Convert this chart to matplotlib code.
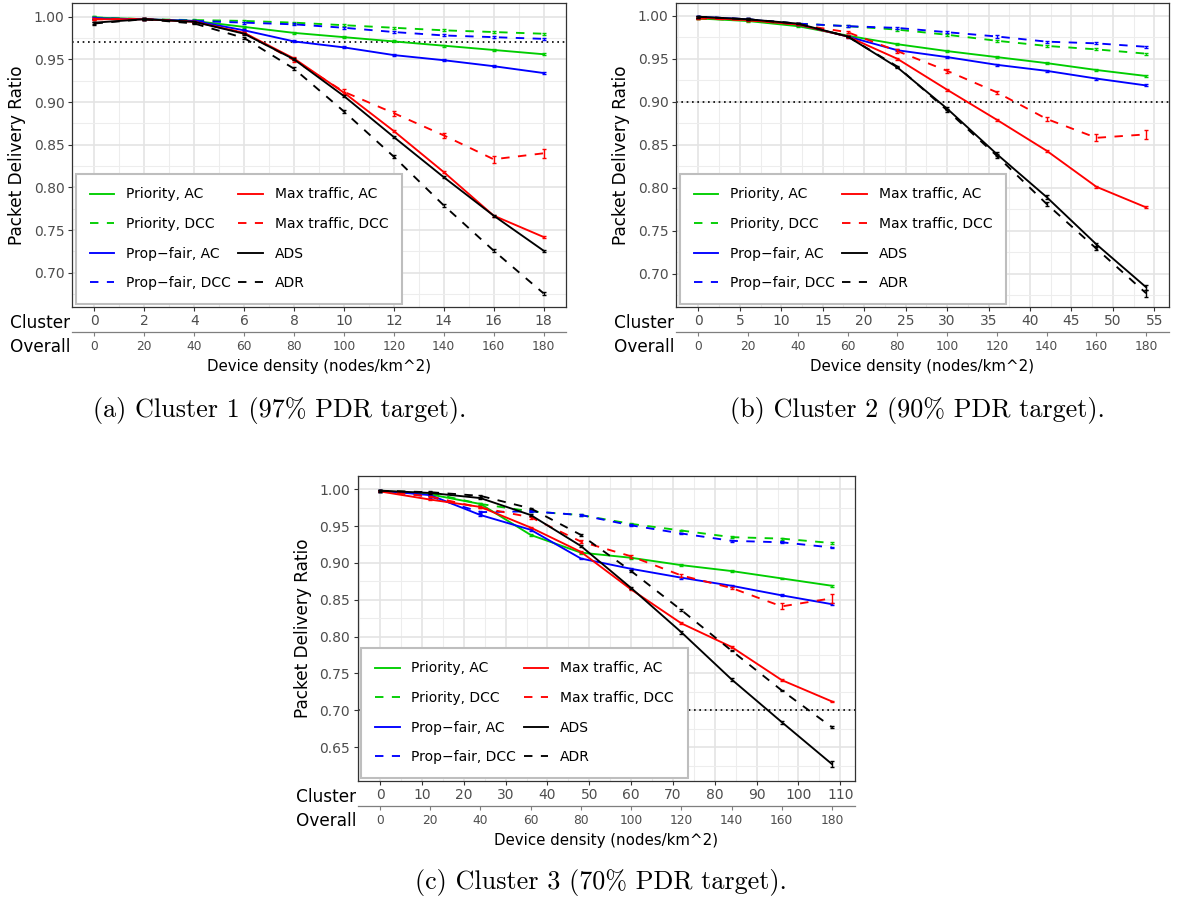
import matplotlib
matplotlib.use("Agg")
from matplotlib import pyplot as plt
from matplotlib.ticker import MultipleLocator, FormatStrFormatter

plt.rcParams['font.family'] = ['DejaVu Sans']

# series, same order as the legend (column-wise)
labels = ["Priority, AC", "Priority, DCC", "Prop\u2212fair, AC", "Prop\u2212fair, DCC",
          "Max traffic, AC", "Max traffic, DCC", "ADS", "ADR"]
line_colors = ["#00CD00", "#00CD00", "#0000FF", "#0000FF",
               "#FF0000", "#FF0000", "#000000", "#000000"]
is_dcc = [False, True, False, True, False, True, False, True]

overall_density = [0, 20, 40, 60, 80, 100, 120, 140, 160, 180]
# cluster density = overall density * share of the cluster
cluster_share = [0.1, 0.3, 0.6]
pdr_target = [0.97, 0.90, 0.70]

captions = ["(a) Cluster 1 (97% PDR target).",
            "(b) Cluster 2 (90% PDR target).",
            "(c) Cluster 3 (70% PDR target)."]

# cluster 1
pdr_c1 = {
    "Priority, AC":          [0.999, 0.997, 0.995, 0.988, 0.981, 0.976, 0.971, 0.966, 0.961, 0.956],
    "Priority, DCC":         [0.999, 0.997, 0.996, 0.995, 0.993, 0.990, 0.987, 0.984, 0.982, 0.980],
    "Prop\u2212fair, AC":    [0.998, 0.997, 0.995, 0.984, 0.971, 0.964, 0.955, 0.949, 0.942, 0.934],
    "Prop\u2212fair, DCC":   [0.998, 0.997, 0.995, 0.993, 0.991, 0.987, 0.982, 0.978, 0.976, 0.974],
    "Max traffic, AC":       [0.997, 0.997, 0.994, 0.981, 0.951, 0.911, 0.866, 0.818, 0.767, 0.742],
    "Max traffic, DCC":      [0.997, 0.997, 0.994, 0.981, 0.949, 0.912, 0.887, 0.861, 0.833, 0.840],
    "ADS":                   [0.993, 0.997, 0.994, 0.980, 0.950, 0.907, 0.859, 0.812, 0.767, 0.726],
    "ADR":                   [0.992, 0.997, 0.992, 0.975, 0.939, 0.889, 0.836, 0.779, 0.726, 0.676],
}
err_c1 = {
    "Max traffic, DCC": [0.001, 0.001, 0.001, 0.001, 0.002, 0.003, 0.003, 0.003, 0.004, 0.005],
    "ADR":              [0.002, 0.001, 0.001, 0.001, 0.002, 0.002, 0.002, 0.002, 0.002, 0.002],
}

# cluster 2
pdr_c2 = {
    "Priority, AC":          [0.997, 0.994, 0.988, 0.977, 0.967, 0.959, 0.952, 0.945, 0.937, 0.930],
    "Priority, DCC":         [0.997, 0.995, 0.991, 0.988, 0.984, 0.978, 0.971, 0.965, 0.961, 0.956],
    "Prop\u2212fair, AC":    [0.999, 0.996, 0.990, 0.976, 0.960, 0.952, 0.943, 0.936, 0.927, 0.919],
    "Prop\u2212fair, DCC":   [0.999, 0.996, 0.991, 0.988, 0.986, 0.981, 0.976, 0.970, 0.968, 0.964],
    "Max traffic, AC":       [0.998, 0.995, 0.990, 0.976, 0.950, 0.914, 0.879, 0.843, 0.801, 0.777],
    "Max traffic, DCC":      [0.997, 0.995, 0.990, 0.981, 0.959, 0.936, 0.911, 0.880, 0.858, 0.862],
    "ADS":                   [0.999, 0.996, 0.991, 0.976, 0.940, 0.892, 0.839, 0.789, 0.734, 0.684],
    "ADR":                   [0.999, 0.996, 0.991, 0.976, 0.941, 0.890, 0.837, 0.781, 0.729, 0.677],
}
err_c2 = {
    "Max traffic, DCC": [0.001, 0.001, 0.001, 0.001, 0.002, 0.002, 0.002, 0.002, 0.004, 0.005],
    "ADS":              [0.001, 0.001, 0.001, 0.001, 0.001, 0.002, 0.002, 0.002, 0.002, 0.003],
    "ADR":              [0.001, 0.001, 0.001, 0.001, 0.001, 0.002, 0.002, 0.002, 0.002, 0.004],
}

# cluster 3
pdr_c3 = {
    "Priority, AC":          [0.998, 0.993, 0.980, 0.938, 0.914, 0.907, 0.897, 0.889, 0.879, 0.869],
    "Priority, DCC":         [0.998, 0.995, 0.980, 0.970, 0.965, 0.953, 0.944, 0.935, 0.933, 0.927],
    "Prop\u2212fair, AC":    [0.998, 0.992, 0.965, 0.945, 0.906, 0.892, 0.880, 0.869, 0.856, 0.844],
    "Prop\u2212fair, DCC":   [0.998, 0.990, 0.969, 0.970, 0.965, 0.951, 0.940, 0.930, 0.928, 0.921],
    "Max traffic, AC":       [0.997, 0.986, 0.976, 0.948, 0.915, 0.864, 0.818, 0.786, 0.741, 0.712],
    "Max traffic, DCC":      [0.998, 0.990, 0.975, 0.962, 0.929, 0.909, 0.883, 0.866, 0.841, 0.852],
    "ADS":                   [0.998, 0.995, 0.988, 0.965, 0.923, 0.866, 0.806, 0.742, 0.684, 0.627],
    "ADR":                   [0.998, 0.996, 0.991, 0.974, 0.938, 0.889, 0.836, 0.781, 0.727, 0.677],
}
err_c3 = {
    "Max traffic, DCC": [0.001, 0.001, 0.001, 0.002, 0.002, 0.002, 0.002, 0.002, 0.004, 0.006],
    "ADS":              [0.001, 0.001, 0.001, 0.001, 0.002, 0.002, 0.002, 0.002, 0.002, 0.004],
}

all_pdr = [pdr_c1, pdr_c2, pdr_c3]
all_err = [err_c1, err_c2, err_c3]
cluster_steps = [2, 5, 10]
ylims = [(0.660, 1.016), (0.661, 1.015), (0.604, 1.018)]

W, H = 1177, 899
fig = plt.figure(figsize=(W / 100, H / 100), dpi=100)

# panel rectangles in pixels: left, top, right, bottom
panel_px = [(72, 3, 566, 307), (676, 3, 1168.5, 307), (357.5, 476, 854.5, 781)]
caption_px = [(280, 410), (917, 410), (601, 883)]

tick_grey = "#4D4D4D"
border = "#333333"

for i in range(3):
    l, t, r, b = panel_px[i]
    ax = fig.add_axes([l / W, 1 - b / H, (r - l) / W, (b - t) / H])
    share = cluster_share[i]
    x = [d * share for d in overall_density]
    pdr = all_pdr[i]
    err = all_err[i]

    for name, col, dcc in zip(labels, line_colors, is_dcc):
        ls = (0, (4.5, 4.5)) if dcc else '-'
        yerr = err.get(name, [0.0012] * len(x))
        ax.plot(x, pdr[name], color=col, ls=ls, lw=1.35, label=name, zorder=3)
        ax.errorbar(x, pdr[name], yerr=yerr, fmt='none', ecolor=col, elinewidth=1,
                    capsize=1.6, capthick=1, zorder=3, label='_nolegend_')

    ax.axhline(pdr_target[i], color='black', ls=(0, (1, 2.2)), lw=1.2, zorder=2)

    xmax = overall_density[-1] * share
    ax.set_xlim(-0.05 * xmax, 1.05 * xmax)
    ax.set_ylim(*ylims[i])

    step = cluster_steps[i]
    ax.xaxis.set_major_locator(MultipleLocator(step))
    ax.xaxis.set_minor_locator(MultipleLocator(step / 2))
    ax.yaxis.set_major_locator(MultipleLocator(0.05))
    ax.yaxis.set_minor_locator(MultipleLocator(0.025))
    ax.yaxis.set_major_formatter(FormatStrFormatter('%.2f'))
    ax.xaxis.set_major_formatter(FormatStrFormatter('%d'))

    ax.grid(which='major', color='#E4E4E4', lw=1.2)
    ax.grid(which='minor', color='#EDEDED', lw=0.8)
    ax.set_axisbelow(True)
    for s in ax.spines.values():
        s.set_color(border)
        s.set_linewidth(0.9)

    ax.tick_params(which='major', direction='out', length=2.8, width=0.8, color=border,
                   labelcolor=tick_grey, labelsize=10, pad=2.5)
    ax.tick_params(which='minor', length=0)

    # overall density as a second axis below the cluster one
    sec = ax.secondary_xaxis(-24.5 / (b - t),
                             functions=(lambda v, s=share: v / s, lambda v, s=share: v * s))
    sec.set_xticks(overall_density)
    sec.xaxis.set_major_formatter(FormatStrFormatter('%d'))
    sec.spines['bottom'].set_color('#7F7F7F')
    sec.spines['bottom'].set_linewidth(0.9)
    sec.tick_params(direction='out', length=2.8, width=0.8, color='#7F7F7F',
                    labelcolor=tick_grey, labelsize=8.8, pad=3.5)

    ax.annotate("Cluster", xy=(0, 0), xycoords='axes fraction', xytext=(-1, -11.5),
                textcoords='offset points', ha='right', va='center', fontsize=12.2)
    ax.annotate("Overall", xy=(0, 0), xycoords='axes fraction', xytext=(-1, -29),
                textcoords='offset points', ha='right', va='center', fontsize=12.2)
    ax.annotate("Device density (nodes/km^2)", xy=(0.5, 0), xycoords='axes fraction',
                xytext=(0, -42.5), textcoords='offset points', ha='center', va='center',
                fontsize=10.8)
    ax.annotate("Packet Delivery Ratio", xy=(0, 0.5), xycoords='axes fraction',
                xytext=(-39.5, 0), textcoords='offset points', ha='center', va='center',
                rotation=90, fontsize=12.2)

    leg = ax.legend(loc='lower left', bbox_to_anchor=(0.008, 0.01), borderaxespad=0,
                    ncol=2, fontsize=10, frameon=True, fancybox=False, framealpha=1,
                    edgecolor='#BEBEBE', handlelength=1.75, handletextpad=0.85,
                    columnspacing=0.55, labelspacing=1.12, borderpad=1.0)
    leg.get_frame().set_linewidth(1.5)

    cx, cy = caption_px[i]
    fig.text(cx / W, 1 - cy / H, captions[i], ha='center', va='center',
             fontsize=18.8, family=['cmr10', 'DejaVu Serif'])

fig.savefig("out.png", dpi=100)
